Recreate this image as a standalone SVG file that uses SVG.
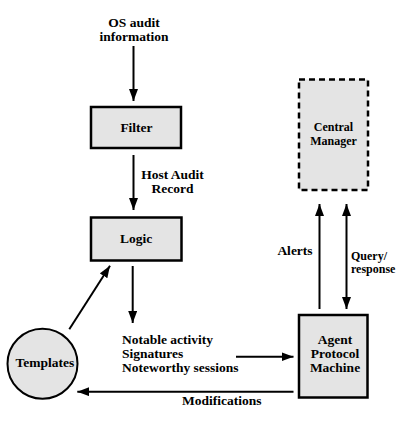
<svg xmlns="http://www.w3.org/2000/svg" width="410" height="437" viewBox="0 0 410 437">
<style>
text{font-family:"Liberation Serif","Times New Roman",serif;font-weight:bold;font-size:13.5px;fill:#000}
.c{text-anchor:middle}
.s{font-size:12px}
.box{fill:#e4e4e4;stroke:#000;stroke-width:2.5}
.dash{fill:#e4e4e4;stroke:#000;stroke-width:2.5;stroke-dasharray:6,4}
.ln{stroke:#000;stroke-width:2;fill:none;marker-end:url(#ah)}
</style>
<defs>
<marker id="ah" markerUnits="userSpaceOnUse" markerWidth="13" markerHeight="10" refX="12" refY="4.5" orient="auto"><path d="M0,0 L12,4.5 L0,9 z" fill="#000"/></marker>
<marker id="as" markerUnits="userSpaceOnUse" markerWidth="13" markerHeight="10" refX="0" refY="4.5" orient="auto"><path d="M12,0 L0,4.5 L12,9 z" fill="#000"/></marker>
</defs>
<rect width="410" height="437" fill="#fff"/>
<g id="connectors">
<line class="ln" x1="133.5" y1="46" x2="133.5" y2="101"/>
<line class="ln" x1="133.5" y1="155" x2="133.5" y2="210"/>
<line class="ln" x1="132.7" y1="266" x2="132.7" y2="323"/>
<line class="ln" x1="69.3" y1="329.3" x2="110" y2="265.7"/>
<line class="ln" x1="236" y1="356.7" x2="293.5" y2="356.7"/>
<line class="ln" x1="293.5" y1="391.7" x2="77.3" y2="391.7"/>
<line class="ln" x1="319.5" y1="309" x2="319.5" y2="204"/>
<line class="ln" x1="346.5" y1="204" x2="346.5" y2="309" style="marker-start:url(#as)"/>
<text class="c" x="172.5" y="179">Host Audit</text>
<text class="c" x="172.5" y="193">Record</text>
<text x="122" y="344">Notable activity</text>
<text x="122" y="358">Signatures</text>
<text x="122" y="372">Noteworthy sessions</text>
<text class="c" x="221.7" y="405">Modifications</text>
<text class="c" x="295" y="255">Alerts</text>
<text class="s" x="351" y="259.5">Query/</text>
<text class="s" x="351" y="273">response</text>
</g>
<g id="os-audit">
<text class="c" x="134" y="27">OS audit</text>
<text class="c" x="134" y="41">information</text>
</g>
<g id="filter">
<rect class="box" x="91" y="107" width="90" height="41"/>
<text class="c" x="136.5" y="132">Filter</text>
</g>
<g id="logic">
<rect class="box" x="91" y="217.5" width="90.5" height="43"/>
<text class="c" x="136" y="243">Logic</text>
</g>
<g id="templates">
<circle cx="42.5" cy="363.7" r="35" fill="#e4e4e4" stroke="#000" stroke-width="2"/>
<text class="c" x="45" y="367">Templates</text>
</g>
<g id="agent">
<rect class="box" x="299" y="315" width="68.5" height="82.5"/>
<text class="c" x="335" y="344">Agent</text>
<text class="c" x="335" y="358">Protocol</text>
<text class="c" x="335" y="372">Machine</text>
</g>
<g id="central-manager">
<rect class="dash" x="299" y="79.5" width="69" height="110.5"/>
<text class="c s" x="333.5" y="131">Central</text>
<text class="c s" x="333.5" y="144.5">Manager</text>
</g>
</svg>
